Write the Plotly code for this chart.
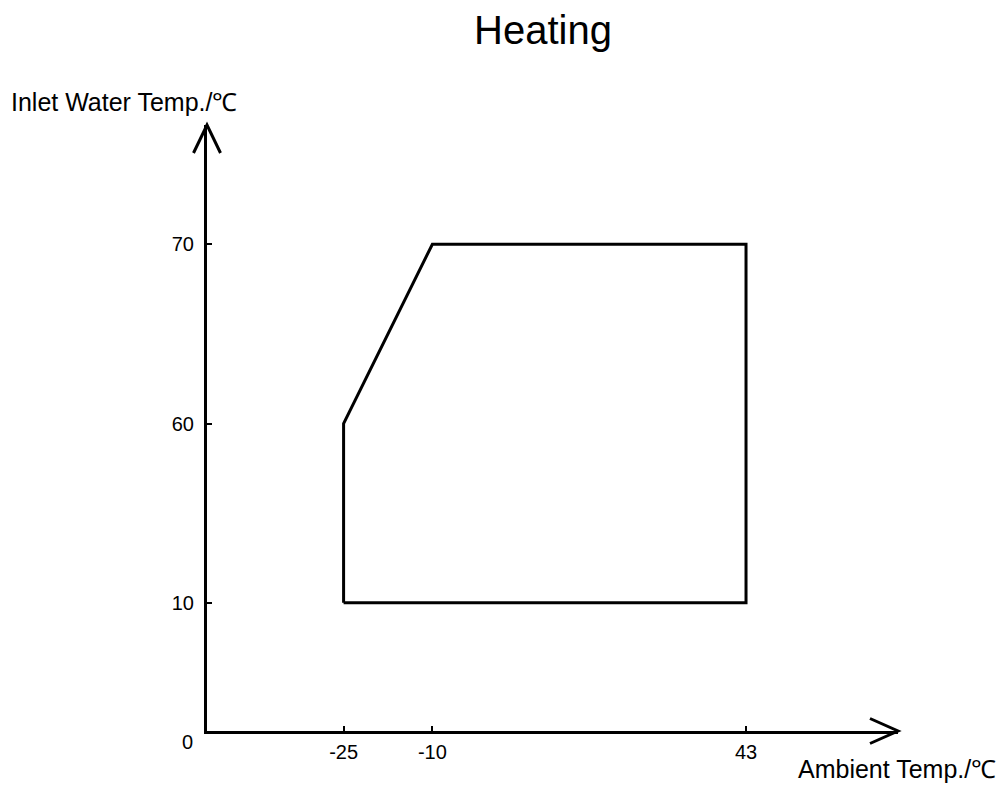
import plotly.graph_objects as go

# Operating envelope (heating)
ambient_temp = [-25, -25, -10, 43, 43, -25]          # °C
inlet_water = ["10", "60", "70", "70", "10", "10"]   # °C (schematic axis)

x_ticks = [-25, -10, 43]
y_ticks = ["10", "60", "70"]

title_text = "Heating"
x_title = "Ambient Temp./℃"
y_title = "Inlet Water Temp./℃"
origin_label = "0"

FONT = "Arial, Liberation Sans, sans-serif"

fig = go.Figure()
fig.add_trace(go.Scatter(
    x=ambient_temp, y=inlet_water, mode="lines",
    line=dict(color="black", width=3),
    hoverinfo="skip", showlegend=False,
))

fig.update_layout(
    width=996, height=779,
    margin=dict(l=199, r=106, t=117, b=56),
    paper_bgcolor="white", plot_bgcolor="white",
    showlegend=False,
    title=dict(text=title_text, x=0.5371, xanchor="center", y=0.9717, yanchor="middle",
               font=dict(family=FONT, size=40, color="black")),
    font=dict(family=FONT, color="black"),
)

fig.update_xaxes(
    range=[-48.08, 68.68], showgrid=False, zeroline=False,
    showline=True, linecolor="black", linewidth=3,
    tickmode="array", tickvals=x_ticks, ticktext=[str(v) for v in x_ticks],
    ticks="inside", ticklen=5, tickwidth=2, tickcolor="black",
    tickfont=dict(family=FONT, size=20, color="black"),
    ticklabelstandoff=1,
)
fig.update_yaxes(
    type="category", categoryorder="array", categoryarray=y_ticks,
    range=[-0.715, 2.665], showgrid=False, zeroline=False,
    showline=True, linecolor="black", linewidth=3,
    ticks="inside", ticklen=5, tickwidth=2, tickcolor="black",
    tickfont=dict(family=FONT, size=20, color="black"),
    ticklabelstandoff=6,
)

# arrow heads on the axes
fig.add_shape(type="path", xref="paper", yref="paper",
              xsizemode="pixel", ysizemode="pixel", xanchor=1, yanchor=0,
              path="M-28,12.5 L0,0 L-28,-12.5",
              line=dict(color="black", width=3))
fig.add_shape(type="path", xref="paper", yref="paper",
              xsizemode="pixel", ysizemode="pixel", xanchor=0, yanchor=1,
              path="M-13.5,-28 L0,0 L13.5,-28",
              line=dict(color="black", width=3))

# axis titles and origin label
fig.add_annotation(text=y_title, xref="paper", yref="paper", x=0, y=1,
                   xanchor="left", yanchor="middle", xshift=-198, yshift=23,
                   showarrow=False, font=dict(family=FONT, size=25, color="black"))
fig.add_annotation(text=x_title, xref="paper", yref="paper", x=1, y=0,
                   xanchor="right", yanchor="middle", xshift=100, yshift=-38,
                   showarrow=False, font=dict(family=FONT, size=25, color="black"))
fig.add_annotation(text=origin_label, xref="paper", yref="paper", x=0, y=0,
                   xanchor="center", yanchor="middle", xshift=-20, yshift=-11,
                   showarrow=False, font=dict(family=FONT, size=20, color="black"))

fig.write_html("out.html")
